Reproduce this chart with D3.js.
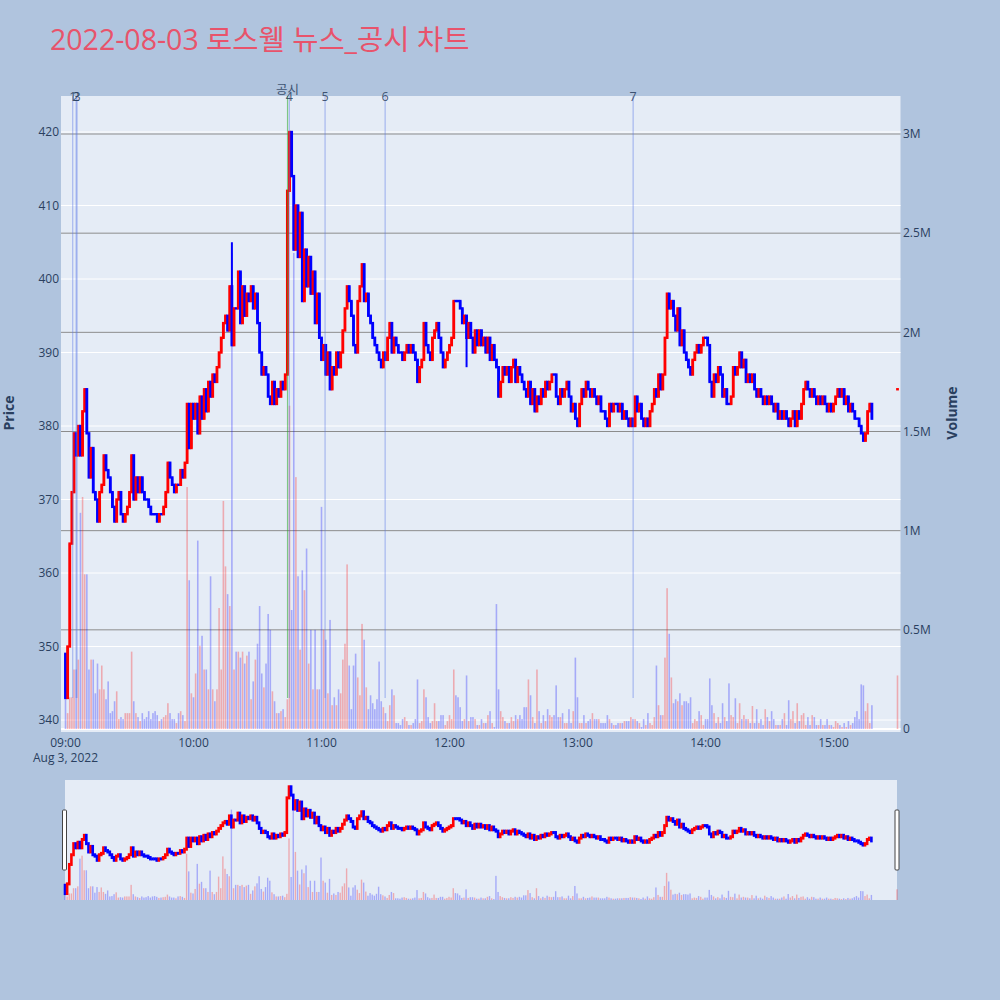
<!DOCTYPE html>
<html><head><meta charset="utf-8">
<script src="https://cdn.jsdelivr.net/npm/d3@7"></script>
<style>
body{margin:0;background:#b0c4de;}
svg{display:block;font-family:"Open Sans","Noto Sans CJK KR",sans-serif;}
</style>
</head><body>
<svg id="chart" width="1000" height="1000"></svg>
<script>
// ---------------- data ----------------
const chartTitle = "2022-08-03 로스웰 뉴스_공시 차트";
const sessionStart = "09:00";
const firstOpen = 349;
// per-minute closing prices 09:00 .. 15:18
const closes = [
343,350,364,371,379,376,380,376,382,385,
379,373,377,371,370,367,371,372,376,374,
373,371,369,367,370,371,368,367,368,369,
371,376,370,373,371,373,371,370,370,369,
368,368,368,367,368,368,369,371,375,373,
372,371,372,372,374,373,375,383,377,383,
381,383,379,384,381,385,382,386,384,387,
386,388,390,392,394,395,393,399,391,396,
396,401,394,399,395,398,397,399,396,398,
394,390,387,388,387,384,383,386,383,385,
384,386,385,387,412,420,414,404,410,403,
409,397,404,399,403,398,401,394,398,392,
389,391,387,390,385,388,387,390,388,390,
393,396,399,397,395,391,390,397,399,402,
397,398,395,394,392,391,390,389,388,390,
389,392,394,390,392,391,390,390,389,390,
391,390,391,390,389,386,388,389,394,391,
390,389,392,393,394,392,390,388,389,390,
391,392,397,397,397,396,394,395,392,394,
392,390,393,391,393,391,392,390,392,389,
391,389,388,384,386,388,387,388,386,388,
389,386,388,387,386,385,384,386,383,385,
382,384,383,385,384,386,385,386,387,387,
384,383,385,384,385,386,384,382,383,381,
380,383,385,384,386,385,384,385,384,383,
384,382,382,381,380,383,382,383,383,382,
383,381,382,381,380,381,380,384,382,383,
381,380,381,380,382,383,385,384,387,385,
387,392,398,396,397,395,393,396,391,393,
390,389,388,387,389,390,391,390,391,392,
392,391,386,384,387,386,388,387,384,385,
383,383,384,388,387,388,390,388,389,386,
387,386,387,385,384,385,384,383,384,383,
384,383,382,383,381,382,381,382,381,380,
381,382,380,382,381,383,385,386,385,384,
385,384,383,384,383,384,383,382,383,382,
383,384,385,384,385,383,384,382,383,382,
381,381,380,379,378,379,382,383,381
];
// per-minute volume in millions of shares
const volumesM = [
0.15,0.08,0.16,0.16,0.3,0.3,0.35,1.09,1.17,0.78,
0.78,0.3,0.35,0.35,0.18,0.33,0.2,0.32,0.2,0.15,
0.24,0.08,0.09,0.14,0.19,0.05,0.06,0.05,0.08,0.08,
0.08,0.39,0.14,0.08,0.06,0.04,0.08,0.05,0.06,0.09,
0.05,0.08,0.09,0.07,0.04,0.05,0.06,0.07,0.13,0.08,
0.05,0.05,0.03,0.08,0.09,0.07,0.04,1.22,0.75,0.18,
0.16,0.28,0.95,0.42,0.47,0.3,0.3,0.2,0.77,0.2,
0.14,0.2,0.61,0.3,1.15,0.82,0.68,0.62,2.4,0.3,
0.39,0.39,0.36,0.39,0.33,0.37,0.39,0.15,0.24,0.35,
0.43,0.62,0.28,0.21,0.33,0.58,0.5,0.19,0.14,0.08,
0.08,0.09,0.1,0.06,0.15,1.63,0.6,2.4,1.27,0.77,
0.4,0.8,0.7,0.91,0.33,0.5,0.2,0.5,0.2,0.2,
1.12,0.5,0.45,0.18,0.55,0.12,0.16,0.12,0.2,0.18,
0.35,0.43,0.83,0.32,0.1,0.32,0.38,0.26,0.17,0.53,
0.45,0.21,0.1,0.17,0.13,0.1,0.15,0.34,0.14,0.11,
0.08,0.04,0.12,0.2,0.17,0.03,0.03,0.02,0.05,0.06,
0.04,0.02,0.02,0.03,0.05,0.25,0.03,0.04,0.2,0.16,
0.06,0.03,0.04,0.13,0.04,0.04,0.07,0.07,0.02,0.04,
0.07,0.05,0.3,0.17,0.16,0.11,0.04,0.05,0.27,0.04,
0.06,0.06,0.05,0.02,0.02,0.05,0.03,0.03,0.07,0.09,
0.03,0.01,0.63,0.2,0.09,0.06,0.04,0.03,0.03,0.06,
0.04,0.07,0.05,0.07,0.05,0.11,0.11,0.25,0.17,0.06,
0.03,0.3,0.09,0.03,0.07,0.04,0.1,0.07,0.06,0.07,
0.22,0.06,0.06,0.08,0.03,0.03,0.1,0.03,0.09,0.36,
0.16,0.03,0.03,0.07,0.03,0.04,0.05,0.08,0.05,0.05,
0.05,0.03,0.03,0.03,0.07,0.05,0.03,0.02,0.02,0.03,
0.03,0.03,0.04,0.04,0.04,0.06,0.05,0.05,0.04,0.03,
0.01,0.05,0.02,0.08,0.03,0.02,0.06,0.32,0.12,0.07,
0.07,0.36,0.71,0.48,0.26,0.13,0.15,0.14,0.18,0.12,
0.14,0.14,0.13,0.16,0.03,0.05,0.04,0.09,0.07,0.02,
0.05,0.05,0.255,0.12,0.08,0.03,0.06,0.03,0.13,0.06,
0.04,0.23,0.07,0.06,0.155,0.03,0.13,0.05,0.07,0.05,
0.05,0.03,0.116,0.03,0.1,0.03,0.05,0.02,0.1,0.06,
0.04,0.09,0.05,0.02,0.02,0.02,0.05,0.08,0.02,0.145,
0.05,0.09,0.03,0.13,0.04,0.07,0.08,0.02,0.06,0.02,
0.07,0.06,0.02,0.02,0.05,0.02,0.02,0.05,0.02,0.02,
0.01,0.04,0.03,0.02,0.01,0.03,0.01,0.04,0.02,0.03,
0.06,0.09,0.05,0.225,0.22,0.09,0.13,0.03,0.12
];
// intraminute extremes that poke out of the bodies
const spikeMinutes = [78, 188];
const spikePrices  = [405, 388];
// closing auction
const closingTime = "15:30";
const closingPrice = 385;
const closingVolumeM = 0.27;
// news / disclosure markers
const markerLabels = ["1","2","3","공시","4","5","6","7"];
const markerTimes  = ["09:03:23","09:05:00","09:05:24","10:44:05","10:44:55","11:01:40","11:29:50","13:26:05"];
// axes
const priceTicks = [340,350,360,370,380,390,400,410,420];
const volumeTicks = [0,0.5,1,1.5,2,2.5,3];
const volumeTickLabels = ["0","0.5M","1M","1.5M","2M","2.5M","3M"];
const timeTicks = ["09:00","10:00","11:00","12:00","13:00","14:00","15:00"];
const dateLabel = "Aug 3, 2022";

// ---------------- helpers ----------------
const parseT = t => { const p = t.split(":").map(Number); return new Date(2022,7,3,p[0],p[1],p[2]||0); };
const t0 = parseT(sessionStart);
const minuteDate = m => new Date(t0.getTime() + m*60000);

const candles = closes.map((c,i)=>{
  const o = i===0 ? firstOpen : closes[i-1];
  return {t:minuteDate(i), o, c, h:Math.max(o,c), l:Math.min(o,c), v:volumesM[i]};
});
spikeMinutes.forEach((m,k)=>{
  const d = candles[m]; const p = spikePrices[k];
  d.h = Math.max(d.h,p); d.l = Math.min(d.l,p);
});
candles.push({t:parseT(closingTime), o:closingPrice, c:closingPrice, h:closingPrice, l:closingPrice, v:closingVolumeM, closing:true});
candles.forEach(d=>{ d.up = d.c > d.o || d.closing; });

const RED = "#ff0000", BLUE = "#0000ff";
const fontColor = "#2a3f5f";

// ---------------- layout ----------------
const svg = d3.select("#chart");
const P = {left:61, right:900.5, top:96, bottom:732};
const S = {left:65, right:897, top:780, bottom:900};

const x = d3.scaleTime().domain([t0, parseT(closingTime)]).range([65.5, 897.5]);
const yP = d3.scaleLinear().domain([340,420]).range([720,132]);
const yV = d3.scaleLinear().domain([0,3]).range([729,134]);

svg.append("rect").attr("width",1000).attr("height",1000).attr("fill","#b0c4de");

// title
svg.append("text").attr("x",50).attr("y",50).attr("font-size",28.5)
  .attr("fill","#e8536b").text(chartTitle);

// plot background
svg.append("rect").attr("x",P.left).attr("y",P.top)
  .attr("width",P.right-P.left).attr("height",P.bottom-P.top).attr("fill","#e5ecf6");

svg.append("clipPath").attr("id","clipMain").append("rect")
  .attr("x",P.left).attr("y",P.top).attr("width",P.right-P.left).attr("height",P.bottom-P.top);

// price grid (white)
svg.append("g").selectAll("line").data(priceTicks).join("line")
  .attr("x1",P.left).attr("x2",P.right).attr("y1",d=>yP(d)).attr("y2",d=>yP(d))
  .attr("stroke","#ffffff").attr("stroke-width",1);
// volume grid (grey) + zero line
svg.append("g").selectAll("line").data(volumeTicks.filter(v=>v>0)).join("line")
  .attr("x1",P.left).attr("x2",P.right).attr("y1",d=>yV(d)).attr("y2",d=>yV(d))
  .attr("stroke","#8c8c8c").attr("stroke-width",1);
svg.append("line").attr("x1",P.left).attr("x2",P.right).attr("y1",yV(0)).attr("y2",yV(0))
  .attr("stroke","#ffffff").attr("stroke-width",2);

const main = svg.append("g").attr("clip-path","url(#clipMain)");

// volume bars
main.append("g").selectAll("rect").data(candles).join("rect")
  .attr("x",d=>x(d.t)-0.8).attr("width",1.6)
  .attr("y",d=>yV(d.v)).attr("height",d=>yV(0)-yV(d.v))
  .attr("fill",d=>d.up?RED:BLUE).attr("opacity",0.28);

// candles
const cg = main.append("g");
cg.selectAll("line").data(candles).join("line")
  .attr("x1",d=>x(d.t)).attr("x2",d=>x(d.t))
  .attr("y1",d=>yP(d.h)).attr("y2",d=>yP(d.l))
  .attr("stroke",d=>d.up?RED:BLUE).attr("stroke-width",2);
cg.selectAll("rect").data(candles).join("rect")
  .attr("x",d=>x(d.t)-1.4).attr("width",2.8)
  .attr("y",d=>yP(Math.max(d.o,d.c))-1.2)
  .attr("height",d=>Math.abs(yP(d.o)-yP(d.c))+2.4)
  .attr("fill",d=>d.up?RED:BLUE);

// marker lines
const lowest = d3.min(candles,d=>d.l);
const markers = markerLabels.map((lab,i)=>({lab, t:parseT(markerTimes[i])}));
svg.append("g").selectAll("line").data(markers).join("line")
  .attr("x1",d=>x(d.t)).attr("x2",d=>x(d.t))
  .attr("y1",P.top).attr("y2",yP(lowest))
  .attr("stroke",d=>d.lab==="공시"?"rgba(40,170,40,0.55)":"rgba(90,120,230,0.45)")
  .attr("stroke-width",1.2);
svg.append("g").selectAll("text").data(markers).join("text")
  .attr("x",d=>x(d.t)).attr("y",d=>d.lab==="공시"?94:101)
  .attr("text-anchor","middle").attr("font-size",12.5)
  .attr("fill",fontColor).attr("opacity",0.85).text(d=>d.lab);

// left axis labels
svg.append("g").selectAll("text").data(priceTicks).join("text")
  .attr("x",59).attr("y",d=>yP(d)).attr("dy","0.35em").attr("text-anchor","end")
  .attr("font-size",12).attr("fill",fontColor).text(d=>d);
// right axis labels
svg.append("g").selectAll("text").data(volumeTicks).join("text")
  .attr("x",903).attr("y",d=>yV(d)).attr("dy","0.35em").attr("text-anchor","start")
  .attr("font-size",12).attr("fill",fontColor).text((d,i)=>volumeTickLabels[i]);
// bottom axis labels
svg.append("g").selectAll("text").data(timeTicks).join("text")
  .attr("x",d=>x(parseT(d))).attr("y",747).attr("text-anchor","middle")
  .attr("font-size",12).attr("fill",fontColor).text(d=>d);
svg.append("text").attr("x",x(t0)).attr("y",762).attr("text-anchor","middle")
  .attr("font-size",12).attr("fill",fontColor).text(dateLabel);

// axis titles
svg.append("text").attr("transform","translate(14,413) rotate(-90)")
  .attr("text-anchor","middle").attr("font-size",14).attr("font-weight","bold")
  .attr("fill",fontColor).text("Price");
svg.append("text").attr("transform","translate(957,413) rotate(-90)")
  .attr("text-anchor","middle").attr("font-size",14).attr("font-weight","bold")
  .attr("fill",fontColor).text("Volume");

// ---------------- range slider ----------------
const xs = d3.scaleTime().domain([t0, parseT(closingTime)]).range([S.left, S.right]);
const ysP = d3.scaleLinear().domain([yP.invert(P.bottom), yP.invert(P.top)]).range([S.bottom, S.top]);
const ysV = d3.scaleLinear().domain([yV.invert(P.bottom), yV.invert(P.top)]).range([S.bottom, S.top]);

svg.append("rect").attr("x",S.left).attr("y",S.top).attr("width",S.right-S.left)
  .attr("height",S.bottom-S.top).attr("fill","#e5ecf6");
const sl = svg.append("g");
sl.append("g").selectAll("rect").data(candles).join("rect")
  .attr("x",d=>xs(d.t)-0.7).attr("width",1.4)
  .attr("y",d=>ysV(d.v)).attr("height",d=>S.bottom-ysV(d.v))
  .attr("fill",d=>d.up?RED:BLUE).attr("opacity",0.28);
sl.append("g").selectAll("rect").data(candles).join("rect")
  .attr("x",d=>xs(d.t)-1.3).attr("width",2.6)
  .attr("y",d=>ysP(Math.max(d.o,d.c))-1.5)
  .attr("height",d=>Math.abs(ysP(d.o)-ysP(d.c))+3)
  .attr("fill",d=>d.up?RED:BLUE);
// handles
[S.left-2.5, S.right-2].forEach(hx=>{
  svg.append("rect").attr("x",hx).attr("y",810).attr("width",4).attr("height",60)
    .attr("fill","#ffffff").attr("stroke","#444").attr("stroke-width",1).attr("rx",1);
});
</script>
</body></html>
